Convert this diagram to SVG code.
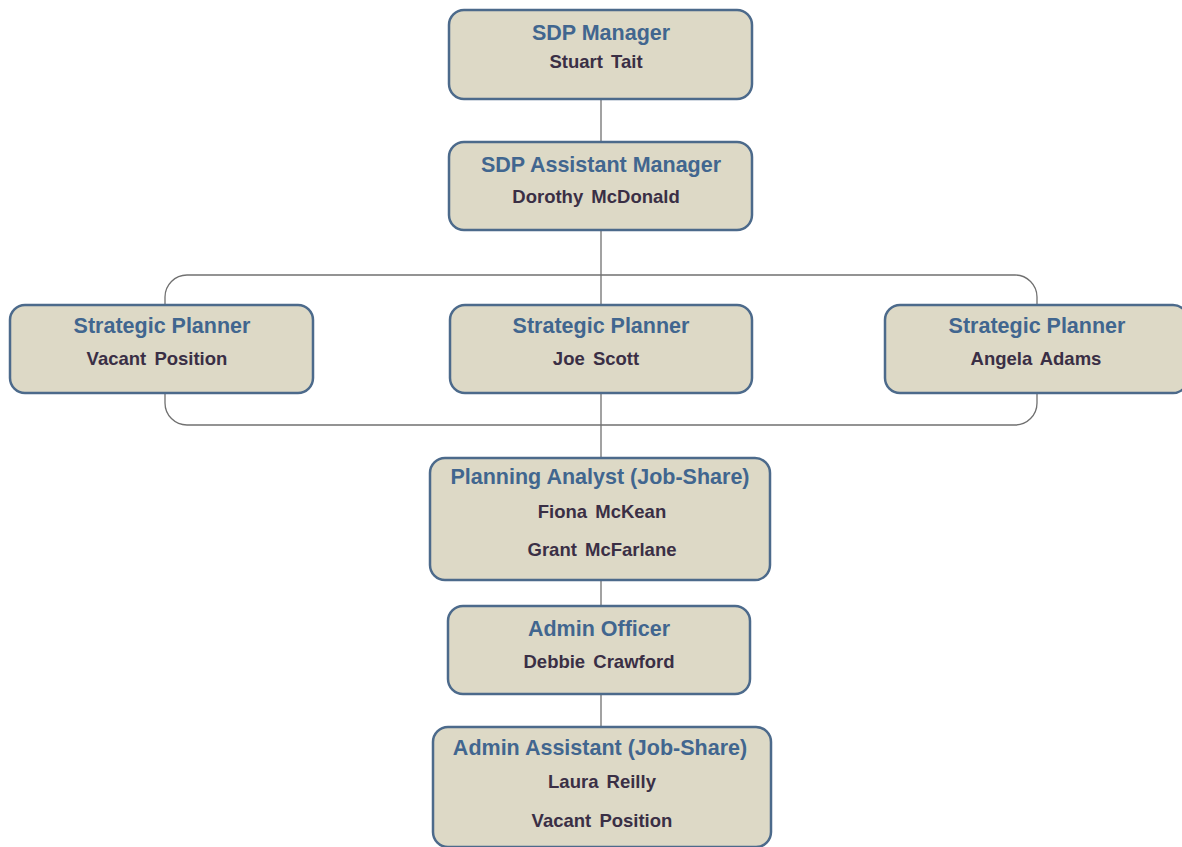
<svg xmlns="http://www.w3.org/2000/svg" width="1182" height="847" viewBox="0 0 1182 847">
<style>
.box{fill:#DDD9C6;stroke:#4C6A8B;stroke-width:2.5}
.t{font-family:"Liberation Sans",Arial,sans-serif;font-weight:bold;font-size:21.5px;fill:#41668F;text-anchor:middle}
.n{font-family:"Liberation Sans",Arial,sans-serif;font-weight:bold;font-size:18.5px;fill:#3A2F45;text-anchor:middle;word-spacing:3px}
.c{fill:none;stroke:#707070;stroke-width:1.3}
</style>
<rect width="1182" height="847" fill="#FFFFFF"/>
<g id="connectors">
<line class="c" x1="601" y1="99" x2="601" y2="142"/>
<line class="c" x1="601" y1="230" x2="601" y2="305"/>
<rect class="c" x="165" y="275" width="872" height="150" rx="22" ry="22"/>
<line class="c" x1="601" y1="393" x2="601" y2="458"/>
<line class="c" x1="601" y1="580" x2="601" y2="606"/>
<line class="c" x1="601" y1="694" x2="601" y2="727"/>
</g>
<g id="sdp-manager">
<rect class="box" x="449" y="10" width="303" height="89" rx="15"/>
<text class="t" x="601" y="40">SDP Manager</text>
<text class="n" x="596" y="68">Stuart Tait</text>
</g>
<g id="sdp-assistant-manager">
<rect class="box" x="449" y="142" width="303" height="88" rx="15"/>
<text class="t" x="601" y="172">SDP Assistant Manager</text>
<text class="n" x="596" y="203">Dorothy McDonald</text>
</g>
<g id="strategic-planner-left">
<rect class="box" x="10" y="305" width="303" height="88" rx="15"/>
<text class="t" x="162" y="333">Strategic Planner</text>
<text class="n" x="157" y="365">Vacant Position</text>
</g>
<g id="strategic-planner-mid">
<rect class="box" x="450" y="305" width="302" height="88" rx="15"/>
<text class="t" x="601" y="333">Strategic Planner</text>
<text class="n" x="596" y="365">Joe Scott</text>
</g>
<g id="strategic-planner-right">
<rect class="box" x="885" y="305" width="303" height="88" rx="15"/>
<text class="t" x="1037" y="333">Strategic Planner</text>
<text class="n" x="1036" y="365">Angela Adams</text>
</g>
<g id="planning-analyst">
<rect class="box" x="430" y="458" width="340" height="122" rx="15"/>
<text class="t" x="600" y="484">Planning Analyst (Job-Share)</text>
<text class="n" x="602" y="518">Fiona McKean</text>
<text class="n" x="602" y="556">Grant McFarlane</text>
</g>
<g id="admin-officer">
<rect class="box" x="448" y="606" width="302" height="88" rx="15"/>
<text class="t" x="599" y="636">Admin Officer</text>
<text class="n" x="599" y="668">Debbie Crawford</text>
</g>
<g id="admin-assistant">
<rect class="box" x="433" y="727" width="338" height="120" rx="15"/>
<text class="t" x="600" y="755">Admin Assistant (Job-Share)</text>
<text class="n" x="602" y="788">Laura Reilly</text>
<text class="n" x="602" y="827">Vacant Position</text>
</g>
</svg>
